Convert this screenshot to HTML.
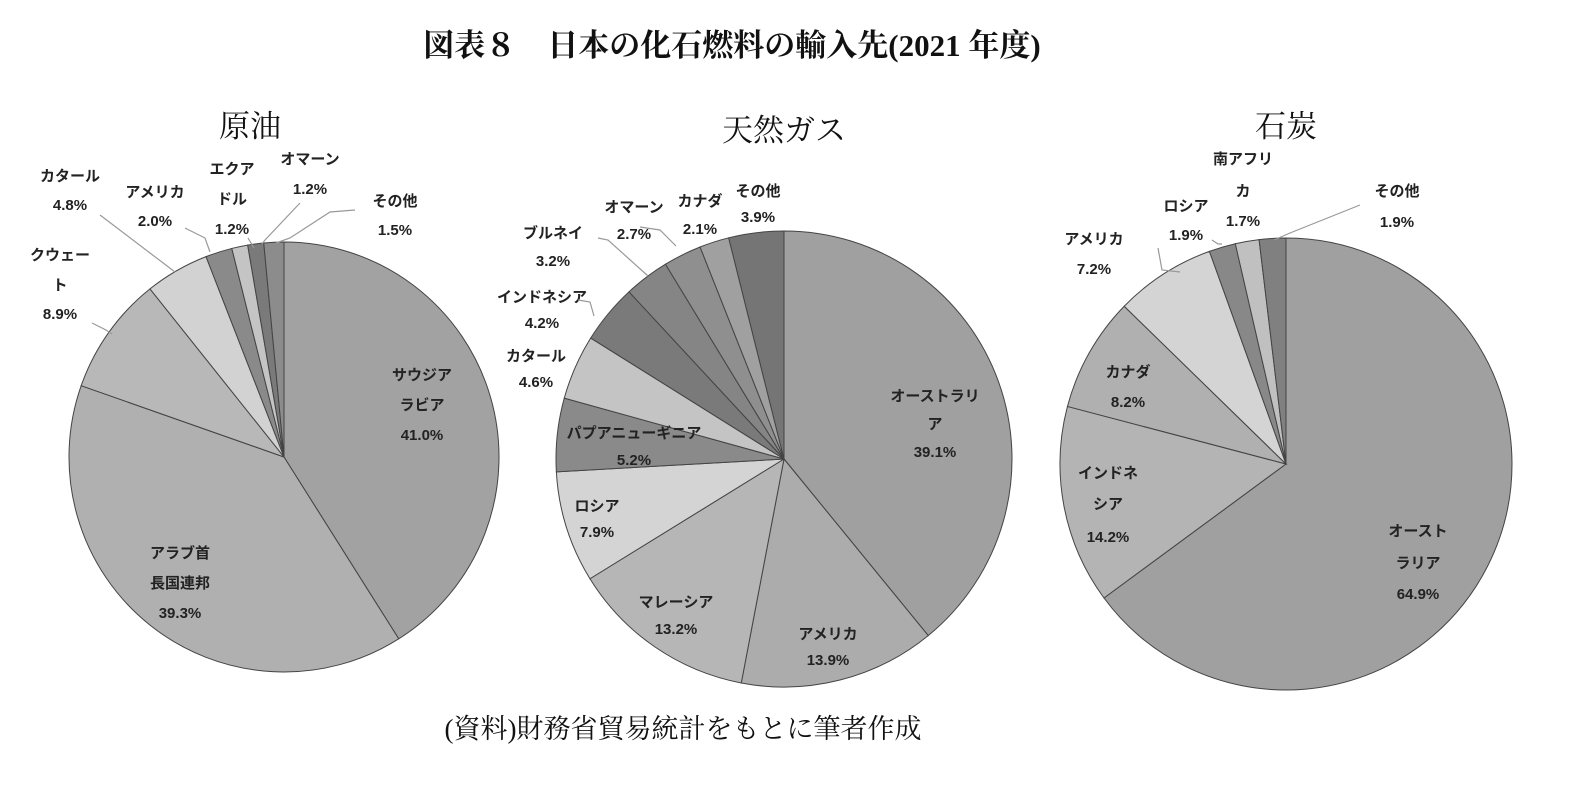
<!DOCTYPE html>
<html><head><meta charset="utf-8"><style>
body{margin:0;background:#fff;width:1582px;height:785px;overflow:hidden}
svg{position:absolute;left:0;top:0}
.lb{font-family:"Liberation Sans","Noto Sans CJK JP",sans-serif;font-weight:bold;font-size:15px;fill:#222;text-anchor:middle}
.tt{font-family:"Liberation Serif","Noto Serif CJK SC",serif;fill:#111;text-anchor:middle}
</style></head><body>
<svg id="c" width="1582" height="785">
<text class="tt" x="732" y="56" font-size="31" font-weight="bold">図表８　日本の化石燃料の輸入先(2021 年度)</text>
<text class="tt" x="250" y="137" font-size="31">原油</text>
<text class="tt" x="784" y="141" font-size="31">天然ガス</text>
<text class="tt" x="1286" y="137" font-size="31">石炭</text>
<text class="tt" x="683" y="738" font-size="27">(資料)財務省貿易統計をもとに筆者作成</text>
<g id="pies"></g>
<g id="labels"></g>
</svg>
<script>
const oilNames=["サウジアラビア","アラブ首長国連邦","クウェート","カタール","アメリカ","エクアドル","オマーン","その他"];
const oilValues=[41.0,39.3,8.9,4.8,2.0,1.2,1.2,1.5];
const gasNames=["オーストラリア","アメリカ","マレーシア","ロシア","パプアニューギニア","カタール","インドネシア","ブルネイ","オマーン","カナダ","その他"];
const gasValues=[39.1,13.9,13.2,7.9,5.2,4.6,4.2,3.2,2.7,2.1,3.9];
const coalNames=["オーストラリア","インドネシア","カナダ","アメリカ","ロシア","南アフリカ","その他"];
const coalValues=[64.9,14.2,8.2,7.2,1.9,1.7,1.9];
const oilColors=["#a2a2a2","#b0b0b0","#b8b8b8","#d2d2d2","#8a8a8a","#c4c4c4","#7a7a7a","#8c8c8c"];
const gasColors=["#a0a0a0","#acacac","#b6b6b6","#d4d4d4","#8a8a8a","#c4c4c4","#7a7a7a","#858585","#8f8f8f","#a0a0a0","#757575"];
const coalColors=["#a0a0a0","#b4b4b4","#b0b0b0","#d4d4d4","#888888","#c0c0c0","#808080"];
const NS="http://www.w3.org/2000/svg";
function pie(id,cx,cy,r,vals,cols,names){
  const g=document.getElementById('pies');
  const tot=vals.reduce((a,b)=>a+b,0);let a=0;
  vals.forEach((v,i)=>{
    const a0=a/tot*2*Math.PI;a+=v;const a1=a/tot*2*Math.PI;
    const x0=cx+r*Math.sin(a0),y0=cy-r*Math.cos(a0),x1=cx+r*Math.sin(a1),y1=cy-r*Math.cos(a1);
    const p=document.createElementNS(NS,'path');
    p.setAttribute('d',`M${cx},${cy}L${x0},${y0}A${r},${r} 0 ${a1-a0>Math.PI?1:0} 1 ${x1},${y1}Z`);
    p.setAttribute('fill',cols[i]);p.setAttribute('stroke','#444');p.setAttribute('stroke-width','1');
    
    
    g.appendChild(p);
  });
}
pie('oil',284,457,215,oilValues,oilColors,oilNames);
pie('gas',784,459,228,gasValues,gasColors,gasNames);
pie('coal',1286,464,226,coalValues,coalColors,coalNames);
const L=[
[422,[380,410,440],["サウジア","ラビア","41.0%"]],
[180,[558,588,618],["アラブ首","長国連邦","39.3%"]],
[60,[260,290,319],["クウェー","ト","8.9%"]],
[70,[181,210],["カタール","4.8%"]],
[155,[197,226],["アメリカ","2.0%"]],
[232,[174,204,234],["エクア","ドル","1.2%"]],
[310,[164,194],["オマーン","1.2%"]],
[395,[206,235],["その他","1.5%"]],
[935,[401,429,457],["オーストラリ","ア","39.1%"]],
[828,[639,665],["アメリカ","13.9%"]],
[676,[607,634],["マレーシア","13.2%"]],
[597,[511,537],["ロシア","7.9%"]],
[634,[438,465],["パプアニューギニア","5.2%"]],
[536,[361,387],["カタール","4.6%"]],
[542,[302,328],["インドネシア","4.2%"]],
[553,[238,266],["ブルネイ","3.2%"]],
[634,[212,239],["オマーン","2.7%"]],
[700,[206,234],["カナダ","2.1%"]],
[758,[196,222],["その他","3.9%"]],
[1418,[536,568,599],["オースト","ラリア","64.9%"]],
[1108,[478,509,542],["インドネ","シア","14.2%"]],
[1128,[377,407],["カナダ","8.2%"]],
[1094,[244,274],["アメリカ","7.2%"]],
[1186,[211,240],["ロシア","1.9%"]],
[1243,[164,196,226],["南アフリ","カ","1.7%"]],
[1397,[196,227],["その他","1.9%"]]];
const lg=document.getElementById('labels');
L.forEach(l=>{
  const t=document.createElementNS(NS,'text');t.setAttribute('class','lb');
  
  
  l[2].forEach((s,i)=>{const ts=document.createElementNS(NS,'tspan');ts.setAttribute('x',l[0]);ts.setAttribute('y',l[1][i]);ts.textContent=s;t.appendChild(ts);});
  lg.appendChild(t);
});
const lines=["92,323 106,330 112,334","100,215 175,272","185,228 205,238 210,252","248,238 254,248","300,203 265,240 262,244","355,210 330,212 290,238 276,243","598,238 608,240 648,276","578,300 590,302 594,316","640,227 660,230 676,246","1158,248 1162,270 1180,272","1212,240 1218,244 1222,244","1360,205 1290,233 1274,240"];
lines.forEach(p=>{const pl=document.createElementNS(NS,'polyline');pl.setAttribute('points',p);pl.setAttribute('fill','none');pl.setAttribute('stroke','#999');pl.setAttribute('stroke-width','1.2');


lg.appendChild(pl);});
</script>
</body></html>
